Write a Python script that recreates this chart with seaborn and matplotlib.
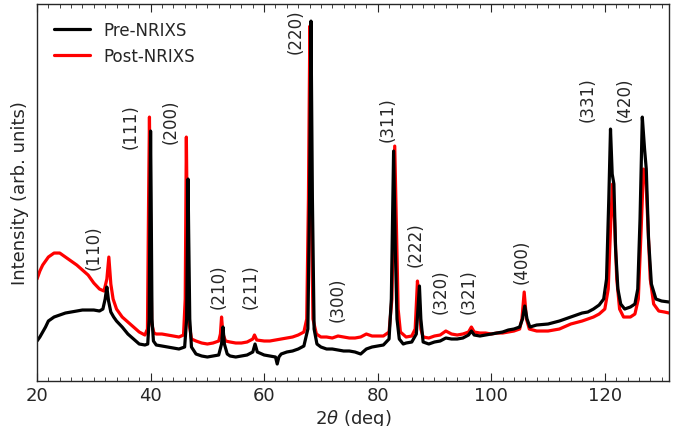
import numpy as np
import pandas as pd
import matplotlib
matplotlib.use("Agg")
import matplotlib.pyplot as plt
from matplotlib.ticker import MultipleLocator
import seaborn as sns

# Pre-NRIXS pattern (2theta in deg, intensity in arb. units)
pre_x = [20.0, 20.5, 21.0, 21.5, 22.0, 23.0, 24.0, 25.0, 26.0, 27.0, 28.0, 29.0, 30.0, 31.0, 31.6,
         32.0, 32.3, 32.6, 33.0, 33.5, 34.0, 35.0, 36.0, 37.0, 38.0, 39.0, 39.5, 39.75, 39.9, 40.0,
         40.1, 40.25, 40.5, 41.0, 42.0, 43.0, 44.0, 45.0, 46.0, 46.35, 46.5, 46.6, 46.7, 46.9, 47.2,
         48.0, 49.0, 50.0, 51.0, 52.0, 52.5, 52.75, 53.0, 53.5, 54.0, 55.0, 56.0, 57.0, 58.0, 58.4,
         58.8, 60.0, 61.0, 62.0, 62.3, 62.6, 63.0, 64.0, 65.0, 66.0, 67.0, 67.7, 68.0, 68.25, 68.5,
         68.8, 69.3, 70.0, 71.0, 72.0, 73.0, 74.0, 75.0, 76.0, 77.0, 78.0, 79.0, 80.0, 81.0, 82.0,
         82.4, 82.8, 83.1, 83.4, 83.8, 84.5, 85.0, 86.0, 86.8, 87.2, 87.35, 87.6, 88.0, 89.0, 90.0,
         91.0, 92.0, 93.0, 94.0, 95.0, 96.0, 96.5, 97.0, 98.0, 99.0, 100.0, 101.0, 102.0, 103.0,
         104.0, 105.0, 105.5, 105.9, 106.3, 106.8, 108.0, 110.0, 112.0, 114.0, 116.0, 117.0, 118.0,
         119.0, 119.8, 120.3, 120.7, 121.0, 121.3, 121.6, 121.9, 122.3, 122.8, 123.5, 124.5, 125.3,
         125.8, 126.2, 126.6, 127.0, 127.3, 127.7, 128.2, 129.0, 130.0, 131.3]
pre_y = [40, 44, 49, 54, 60, 64, 66, 68, 69, 70, 71, 71, 71, 70, 72,
         82, 94, 80, 69, 64, 60, 54, 47, 42, 37, 36, 37, 62, 182, 250,
         182, 62, 40, 36, 35, 34, 33, 32, 34, 62, 152, 202, 152, 62, 34,
         27, 25, 24, 25, 26, 37, 54, 37, 27, 25, 24, 25, 26, 29, 37,
         29, 26, 25, 24, 17, 24, 27, 29, 30, 32, 35, 52, 182, 360, 182,
         52, 37, 34, 32, 32, 31, 30, 30, 29, 27, 32, 34, 35, 36, 42,
         82, 230, 132, 62, 42, 37, 38, 39, 47, 82, 95, 62, 39, 37, 39,
         40, 43, 42, 42, 43, 46, 50, 46, 45, 46, 47, 48, 49, 51,
         52, 54, 62, 75, 62, 54, 56, 57, 60, 64, 68, 69, 72,
         76, 82, 102, 182, 252, 207, 197, 132, 92, 77, 72, 74, 77,
         92, 162, 264, 232, 212, 142, 97, 82, 80, 79]

# Post-NRIXS pattern
post_x = [20.0, 20.5, 21.0, 22.0, 23.0, 24.0, 25.0, 26.0, 27.0, 28.0, 29.0, 30.0, 31.0, 31.8,
          32.3, 32.65, 33.0, 33.4, 34.0, 35.0, 36.0, 37.0, 38.0, 39.0, 39.45, 39.65, 39.8, 39.95,
          40.2, 40.6, 41.0, 42.0, 43.0, 44.0, 45.0, 45.8, 46.1, 46.3, 46.5, 46.8, 47.2, 48.0, 49.0,
          50.0, 51.0, 52.0, 52.3, 52.5, 52.75, 53.2, 54.0, 55.0, 56.0, 57.0, 58.0, 58.3, 58.7, 60.0,
          61.0, 62.0, 63.0, 64.0, 65.0, 66.0, 67.0, 67.5, 67.8, 68.05, 68.3, 68.6, 69.2, 70.0, 71.0,
          72.0, 73.0, 74.0, 75.0, 76.0, 77.0, 78.0, 79.0, 80.0, 81.0, 82.0, 82.5, 83.0, 83.3, 83.6,
          84.0, 85.0, 86.0, 86.6, 87.0, 87.3, 87.6, 88.0, 89.0, 90.0, 91.0, 92.0, 93.0, 94.0, 95.0,
          96.0, 96.5, 97.0, 98.0, 99.0, 100.0, 101.0, 102.0, 103.0, 104.0, 105.0, 105.4, 105.8,
          106.2, 106.7, 108.0, 110.0, 112.0, 114.0, 116.0, 117.0, 118.0, 119.0, 120.0, 120.6, 121.0,
          121.35, 121.7, 122.1, 122.6, 123.3, 124.5, 125.3, 125.9, 126.4, 126.8, 127.2, 127.5, 128.0,
          128.6, 129.5, 130.5, 131.3]
post_y = [102, 110, 116, 124, 128, 128, 124, 120, 116, 111, 106, 98, 92, 90,
          102, 124, 97, 82, 72, 64, 59, 54, 49, 46, 52, 182, 264, 182,
          57, 48, 47, 47, 46, 45, 44, 46, 82, 244, 132, 57, 42, 40, 38,
          37, 38, 40, 47, 64, 47, 40, 39, 38, 38, 39, 42, 46, 41, 40,
          40, 41, 42, 43, 44, 46, 49, 62, 182, 355, 182, 62, 47, 44, 44,
          43, 45, 44, 43, 43, 44, 47, 45, 45, 45, 49, 82, 235, 152, 72,
          49, 44, 45, 52, 100, 82, 52, 44, 43, 45, 46, 50, 47, 46, 47,
          49, 54, 49, 48, 48, 47, 48, 48, 49, 50, 52, 62, 89,
          62, 52, 50, 50, 52, 57, 60, 62, 64, 67, 72, 92, 152,
          197, 162, 102, 72, 64, 64, 67, 82, 152, 212, 207, 167, 102,
          77, 70, 69, 68]

# Miller-index labels: text, 2theta position, vertical position
hkl_labels = ["(110)", "(111)", "(200)", "(210)", "(211)", "(220)", "(300)", "(311)",
              "(222)", "(320)", "(321)", "(400)", "(331)", "(420)"]
hkl_x = [29.9, 36.5, 43.6, 51.9, 57.7, 65.6, 73.0, 81.8, 86.7, 91.0, 96.1, 105.4, 117.0, 123.5]
hkl_y = [134, 255, 260, 95, 95, 350, 82, 262, 137, 90, 90, 120, 282, 282]

series_names = ["Pre-NRIXS", "Post-NRIXS"]

df = pd.concat([
    pd.DataFrame({"x": pre_x, "y": pre_y, "s": series_names[0]}),
    pd.DataFrame({"x": post_x, "y": post_y, "s": series_names[1]}),
])

sns.set_style("ticks")
plt.rcParams["font.family"] = ["DejaVu Sans"]

fig = plt.figure(figsize=(6.78, 4.27), dpi=100)
ax = fig.add_axes([0.0546, 0.1054, 0.9321, 0.8826])

# draw post first so pre is on top, keep legend order
sns.lineplot(data=df[df.s == series_names[1]], x="x", y="y", color="#ff0000", lw=2.3,
             ax=ax, estimator=None, sort=False, label=None)
sns.lineplot(data=df[df.s == series_names[0]], x="x", y="y", color="black", lw=2.3,
             ax=ax, estimator=None, sort=False, label=None)
lines = ax.get_lines()
ax.legend([lines[1], lines[0]], series_names, loc="upper left", frameon=False,
          fontsize=12, handlelength=2.2, borderaxespad=0.6, labelspacing=0.5)

for t, x, y in zip(hkl_labels, hkl_x, hkl_y):
    ax.text(x, y, t, rotation=90, ha="center", va="center", fontsize=12)

ax.set_xlim(20, 131.3)
ax.set_ylim(0, 377)
ax.set_yticks([])
ax.xaxis.set_major_locator(MultipleLocator(20))
ax.xaxis.set_minor_locator(MultipleLocator(2))
ax.tick_params(axis="x", which="both", direction="in", top=True, labelsize=13)
ax.tick_params(axis="x", which="major", length=6)
ax.tick_params(axis="x", which="minor", length=3)
ax.set_xlabel(r"2$\theta$ (deg)", fontsize=13, labelpad=2)
ax.set_ylabel("Intensity (arb. units)", fontsize=13, labelpad=6)
for sp in ax.spines.values():
    sp.set_visible(True)
    sp.set_linewidth(1.0)

fig.savefig("out.png", dpi=100)
